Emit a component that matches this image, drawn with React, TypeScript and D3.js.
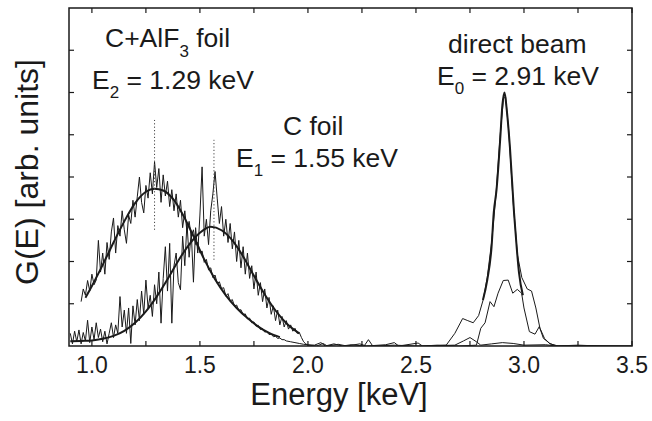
import React from 'react';
import * as d3 from 'd3';

// measured spectra, [energy keV, G(E)]
const cAlF3Data: [number, number][] = [
  [0.95, 1.05], [0.96, 1.35], [0.97, 1.2], [0.98, 1.55], [0.99, 1.3], [1.0, 1.7], [1.01, 1.45], [1.02, 1.56],
  [1.03, 2.5], [1.04, 1.75], [1.05, 2.2], [1.06, 1.7], [1.07, 2.45], [1.08, 2.05], [1.09, 2.7], [1.1, 3.03],
  [1.11, 2.2], [1.12, 2.85], [1.13, 2.6], [1.14, 3.2], [1.15, 2.75], [1.16, 2.43], [1.17, 3.1], [1.18, 2.9],
  [1.19, 3.45], [1.2, 3.05], [1.21, 3.53], [1.22, 4.0], [1.23, 3.4], [1.24, 3.15], [1.25, 3.8], [1.26, 3.5],
  [1.27, 4.1], [1.28, 3.6], [1.29, 4.36], [1.3, 3.75], [1.31, 4.2], [1.32, 3.4], [1.33, 4.05], [1.34, 3.55],
  [1.35, 3.9], [1.36, 3.3], [1.37, 3.7], [1.38, 3.2], [1.39, 3.6], [1.4, 3.05], [1.41, 3.45], [1.42, 2.8],
  [1.43, 3.2], [1.44, 2.7], [1.45, 2.95], [1.46, 2.6], [1.47, 2.75], [1.48, 2.4], [1.49, 2.45], [1.5, 2.2],
  [1.51, 2.25], [1.52, 1.98], [1.53, 2.05], [1.54, 1.8], [1.55, 1.85], [1.56, 1.62], [1.57, 1.68], [1.58, 1.48],
  [1.59, 1.52], [1.6, 1.36], [1.61, 1.38], [1.62, 1.18], [1.63, 1.24], [1.64, 1.06], [1.65, 1.1], [1.66, 0.94],
  [1.67, 0.97], [1.68, 0.84], [1.69, 0.86], [1.7, 0.74], [1.71, 0.76], [1.72, 0.64], [1.73, 0.66], [1.74, 0.55],
  [1.75, 0.57], [1.76, 0.47], [1.77, 0.49], [1.78, 0.39], [1.79, 0.41], [1.8, 0.33], [1.81, 0.34], [1.82, 0.27],
  [1.83, 0.28], [1.84, 0.22], [1.85, 0.23], [1.86, 0.18], [1.87, 0.19], [1.88, 0.15], [1.89, 0.15], [1.9, 0.12],
  [1.92, 0.1], [1.94, 0.08], [1.96, 0.06], [1.98, 0.04], [2.0, 0.03], [2.03, 0.02], [2.06, 0.08], [2.08, 0.0],
  [2.12, 0.05], [2.16, 0.0], [2.2, 0.03], [2.26, 0.0], [2.28, 0.15], [2.3, 0.0], [2.4, 0.02], [2.5, 0.0],
  [2.6, 0.01], [2.68, 0.02], [2.72, 0.12], [2.75, 0.2], [2.78, 0.1], [2.8, 0.02], [2.85, 0.05], [2.9, 0.08],
  [2.95, 0.06], [3.0, 0.02], [3.1, 0.03], [3.15, 0.0], [3.3, 0.01], [3.5, 0.0],
];

const cFoilData: [number, number][] = [
  [0.9, 0.3], [0.91, 0.05], [0.92, 0.35], [0.93, 0.1], [0.94, 0.38], [0.95, 0.05], [0.96, 0.32], [0.97, 0.12],
  [0.98, 0.61], [0.99, 0.08], [1.0, 0.45], [1.01, 0.15], [1.02, 0.55], [1.03, 0.2], [1.04, 0.4], [1.05, 0.1],
  [1.06, 0.35], [1.07, 0.05], [1.08, 0.3], [1.09, 0.55], [1.1, 0.2], [1.11, 0.5], [1.12, 0.3], [1.13, 1.17],
  [1.14, 0.45], [1.15, 0.85], [1.16, 0.3], [1.17, 0.9], [1.18, 0.06], [1.19, 0.95], [1.2, 0.5], [1.21, 1.1],
  [1.22, 0.6], [1.23, 1.3], [1.24, 0.75], [1.25, 1.56], [1.26, 0.9], [1.27, 1.2], [1.28, 0.7], [1.29, 1.45],
  [1.3, 1.0], [1.31, 1.75], [1.32, 0.54], [1.33, 1.6], [1.34, 2.35], [1.35, 1.3], [1.36, 2.43], [1.37, 0.54],
  [1.38, 1.9], [1.39, 2.2], [1.4, 1.5], [1.41, 1.33], [1.42, 2.6], [1.43, 1.9], [1.44, 2.9], [1.45, 2.1],
  [1.46, 2.7], [1.47, 1.51], [1.48, 2.8], [1.49, 2.2], [1.5, 3.1], [1.51, 4.24], [1.52, 2.6], [1.53, 3.0],
  [1.54, 2.4], [1.55, 3.2], [1.56, 3.6], [1.57, 4.13], [1.58, 3.5], [1.59, 2.9], [1.6, 3.3], [1.61, 2.6],
  [1.62, 3.0], [1.63, 2.45], [1.64, 2.9], [1.65, 2.3], [1.66, 2.7], [1.67, 2.0], [1.68, 2.5], [1.69, 1.85],
  [1.7, 2.35], [1.71, 1.7], [1.72, 2.2], [1.73, 1.6], [1.74, 1.9], [1.75, 1.35], [1.76, 1.75], [1.77, 1.2],
  [1.78, 1.5], [1.79, 1.05], [1.8, 1.35], [1.81, 0.9], [1.82, 1.15], [1.83, 0.75], [1.84, 0.95], [1.85, 0.6],
  [1.86, 0.85], [1.87, 0.5], [1.88, 0.7], [1.89, 0.45], [1.9, 0.6], [1.91, 0.4], [1.92, 0.5], [1.93, 0.35],
  [1.94, 0.42], [1.95, 0.3], [1.96, 0.32], [1.97, 0.2], [1.98, 0.1], [1.99, 0.05], [2.0, 0.02], [2.04, 0.0],
  [2.07, 0.06], [2.09, 0.0], [2.14, 0.04], [2.18, 0.0], [2.24, 0.05], [2.27, 0.0], [2.36, 0.03], [2.4, 0.08],
  [2.42, 0.0], [2.51, 0.07], [2.53, 0.0], [2.6, 0.02], [2.7, 0.0], [2.78, 0.02], [2.8, 0.42], [2.82, 0.55],
  [2.843, 1.05], [2.861, 0.93], [2.88, 1.25], [2.904, 1.55], [2.927, 1.56], [2.948, 1.25], [2.969, 1.34],
  [2.989, 1.25], [3.0, 0.9], [3.025, 0.34], [3.051, 0.28], [3.071, 0.46], [3.09, 0.18], [3.12, 0.06],
  [3.15, 0.0], [3.25, 0.02], [3.35, 0.0], [3.5, 0.0],
];

const beamData: [number, number][] = [
  [2.55, 0.0], [2.6, 0.01], [2.64, 0.02], [2.68, 0.3], [2.716, 0.65], [2.74, 0.6], [2.765, 0.55], [2.79, 0.72],
  [2.811, 1.09], [2.83, 1.62], [2.85, 2.45], [2.87, 3.55], [2.89, 5.0], [2.905, 5.85], [2.915, 5.9],
  [2.93, 5.05], [2.95, 3.4], [2.97, 2.15], [2.99, 1.62], [3.015, 1.35], [3.035, 1.3], [3.055, 0.9],
  [3.074, 0.42], [3.095, 0.18], [3.12, 0.05], [3.16, 0.0], [3.2, 0.0],
];

// fitted curves
const cAlF3Fit: [number, number][] = [
  [0.97, 1.14], [1.0, 1.42], [1.05, 1.92], [1.1, 2.45], [1.15, 2.95], [1.2, 3.38], [1.25, 3.65], [1.29, 3.72],
  [1.33, 3.68], [1.38, 3.45], [1.43, 3.02], [1.47, 2.6], [1.52, 2.05], [1.57, 1.58], [1.62, 1.2], [1.67, 0.9],
  [1.72, 0.66], [1.77, 0.46], [1.82, 0.31], [1.87, 0.21],
];

const cFoilFit: [number, number][] = [
  [0.9, 0.11], [0.95, 0.12], [1.0, 0.13], [1.05, 0.17], [1.1, 0.24], [1.15, 0.36], [1.2, 0.55], [1.25, 0.82],
  [1.3, 1.17], [1.35, 1.58], [1.4, 2.02], [1.45, 2.4], [1.5, 2.68], [1.55, 2.82], [1.6, 2.74], [1.65, 2.5],
  [1.7, 2.12], [1.75, 1.66], [1.8, 1.22], [1.85, 0.84], [1.9, 0.54], [1.96, 0.3],
];

const beamFit: [number, number][] = [
  [2.81, 1.09], [2.83, 1.56], [2.85, 2.35], [2.86, 3.15], [2.873, 3.7], [2.89, 4.9], [2.9, 5.7], [2.91, 6.0],
  [2.92, 5.6], [2.935, 4.7], [2.954, 3.15], [2.966, 2.35], [2.977, 1.73], [2.995, 1.2],
];

// dotted markers: [energy, from, to]
const peakMarkers: [number, number, number][] = [
  [1.29, 2.75, 5.35],
  [1.565, 2.04, 4.88],
];

const xTicks = [1.0, 1.25, 1.5, 1.75, 2.0, 2.25, 2.5, 2.75, 3.0, 3.25, 3.5];
const xLabels = [1.0, 1.5, 2.0, 2.5, 3.0, 3.5];
const yTicks = [1, 2, 3, 4, 5, 6, 7];

const W = 652;
const H = 421;
const left = 69;
const right = 632;
const top = 8;
const bottom = 346;

const font = '"Liberation Sans", Arial, Helvetica, sans-serif';

export default function App() {
  const x = d3.scaleLinear().domain([0.894, 3.5]).range([left, right]);
  const y = d3.scaleLinear().domain([0, 8]).range([bottom, top]);
  const line = d3
    .line<[number, number]>()
    .x((d) => x(d[0]))
    .y((d) => y(d[1]));
  const smooth = d3
    .line<[number, number]>()
    .x((d) => x(d[0]))
    .y((d) => y(d[1]))
    .curve(d3.curveMonotoneX);

  const ink = '#1a1a1a';
  const tickLen = 5;

  return (
    <svg
      width={W}
      height={H}
      style={{ position: 'absolute', left: 0, top: 0, background: '#fff' }}
      fontFamily={font}
    >
      <defs>
        <clipPath id="plot">
          <rect x={left} y={top} width={right - left} height={bottom - top} />
        </clipPath>
      </defs>

      <g clipPath="url(#plot)" fill="none" strokeLinejoin="round">
        <path d={line(cFoilData) || ''} stroke={ink} strokeWidth={1} />
        <path d={line(cAlF3Data) || ''} stroke={ink} strokeWidth={1} />
        <path d={line(beamData) || ''} stroke={ink} strokeWidth={1} />
        <path d={smooth(cAlF3Fit) || ''} stroke={ink} strokeWidth={2} />
        <path d={smooth(cFoilFit) || ''} stroke={ink} strokeWidth={2} />
        <path d={smooth(beamFit) || ''} stroke={ink} strokeWidth={2} />
        {peakMarkers.map(([e, a, b]) => (
          <line
            key={e}
            x1={x(e)}
            x2={x(e)}
            y1={y(a)}
            y2={y(b)}
            stroke="#444"
            strokeWidth={1}
            strokeDasharray="1.2,2.2"
          />
        ))}
      </g>

      {/* frame and ticks */}
      <rect x={left} y={top} width={right - left} height={bottom - top} fill="none" stroke={ink} strokeWidth={1.5} />
      {xTicks.map((t) => (
        <g key={'x' + t} stroke={ink} strokeWidth={1.2}>
          <line x1={x(t)} x2={x(t)} y1={bottom} y2={bottom - tickLen} />
          <line x1={x(t)} x2={x(t)} y1={top} y2={top + tickLen} />
        </g>
      ))}
      {yTicks.map((t) => (
        <g key={'y' + t} stroke={ink} strokeWidth={1.2}>
          <line x1={left} x2={left + tickLen} y1={y(t)} y2={y(t)} />
          <line x1={right} x2={right - tickLen} y1={y(t)} y2={y(t)} />
        </g>
      ))}
      {xLabels.map((t) => (
        <text key={'l' + t} x={x(t)} y={373} textAnchor="middle" fontSize={23} fill={ink}>
          {d3.format('.1f')(t)}
        </text>
      ))}

      <text x={339} y={405} textAnchor="middle" fontSize={31} fill={ink}>
        Energy [keV]
      </text>
      <text
        transform="translate(38,172) rotate(-90)"
        textAnchor="middle"
        fontSize={32}
        fill={ink}
      >
        G(E) [arb. units]
      </text>

      {/* annotations */}
      <g fontSize={26.5} fill={ink} style={{ whiteSpace: 'pre' }}>
        <text x={105} y={47}>
          C+AlF<tspan dy={10} fontSize={17}>3</tspan>
          <tspan dy={-10}> foil</tspan>
        </text>
        <text x={92} y={89}>
          E<tspan dy={9} fontSize={17}>2</tspan>
          <tspan dy={-9}> = 1.29 keV</tspan>
        </text>
        <text x={283} y={135}>
          C foil
        </text>
        <text x={236} y={167}>
          E<tspan dy={9} fontSize={17}>1</tspan>
          <tspan dy={-9}> = 1.55 keV</tspan>
        </text>
        <text x={448} y={53}>
          direct beam
        </text>
        <text x={437} y={85}>
          E<tspan dy={9} fontSize={17}>0</tspan>
          <tspan dy={-9}> = 2.91 keV</tspan>
        </text>
      </g>
    </svg>
  );
}
